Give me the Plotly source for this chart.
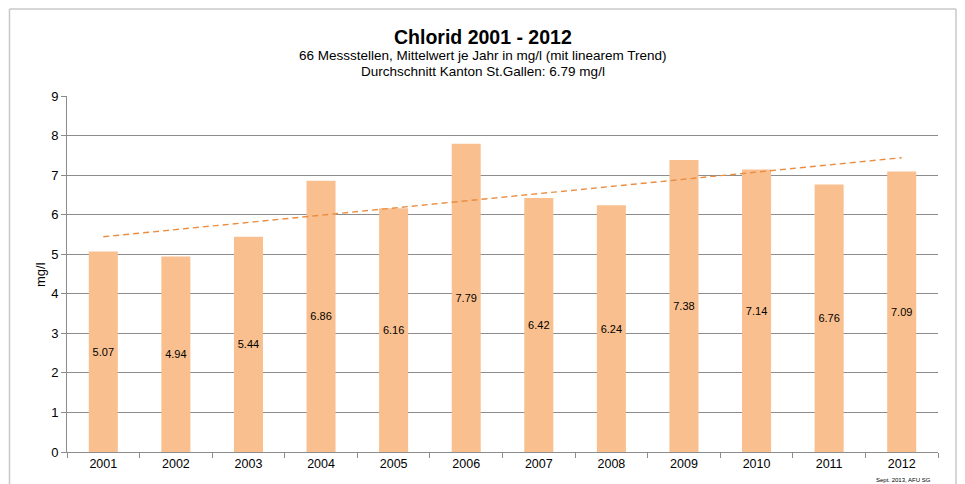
import numpy as np
import plotly.graph_objects as go

years = ["2001", "2002", "2003", "2004", "2005", "2006", "2007", "2008", "2009", "2010", "2011", "2012"]
values = [5.07, 4.94, 5.44, 6.86, 6.16, 7.79, 6.42, 6.24, 7.38, 7.14, 6.76, 7.09]
y_ticks = [0, 1, 2, 3, 4, 5, 6, 7, 8, 9]

# linear trend (least squares) computed from the data
idx = np.arange(1, len(values) + 1)
slope, intercept = np.polyfit(idx, values, 1)
trend = list(slope * idx + intercept)

FONT = "Arial, Liberation Sans, sans-serif"

fig = go.Figure()
fig.add_trace(go.Bar(
    x=years, y=values,
    marker=dict(color="#F9BF8E", line=dict(width=0)),
    text=[f"{v:.2f}" for v in values],
    textposition="inside", insidetextanchor="middle", textangle=0,
    textfont=dict(family=FONT, size=11, color="#000000"),
    constraintext="none",
    hoverinfo="x+y",
))
fig.add_trace(go.Scatter(
    x=years, y=trend, mode="lines",
    line=dict(color="#EA8D40", width=1.4, dash="6px,4px"),
    hoverinfo="skip",
))

fig.update_layout(
    width=965, height=484,
    margin=dict(l=67, r=27, t=96, b=32),
    paper_bgcolor="white", plot_bgcolor="white",
    showlegend=False,
    bargap=0.6,
    font=dict(family=FONT, size=12, color="#000000"),
    xaxis=dict(
        type="category", showgrid=False,
        showline=True, linecolor="#8c8c8c", linewidth=1,
        ticks="outside", tickson="boundaries", ticklen=5, tickcolor="#8c8c8c",
        tickfont=dict(family=FONT, size=12.5, color="#000000"),
        fixedrange=True,
    ),
    yaxis=dict(
        range=[0, 9], tickvals=y_ticks,
        showgrid=True, gridcolor="#8c8c8c", gridwidth=1,
        showline=True, linecolor="#8c8c8c", linewidth=1,
        ticks="outside", ticklen=5, tickcolor="#8c8c8c",
        tickfont=dict(family=FONT, size=13, color="#000000"),
        zeroline=False, fixedrange=True,
    ),
    annotations=[
        dict(text="<b>Chlorid 2001 - 2012</b>", xref="paper", yref="paper",
             x=(483 - 67) / 871, y=(452 - 37) / 356, xanchor="center", yanchor="middle",
             showarrow=False, font=dict(family=FONT, size=19.5, color="#000000")),
        dict(text="66 Messstellen, Mittelwert je Jahr in mg/l (mit linearem Trend)", xref="paper", yref="paper",
             x=(483 - 67) / 871, y=(452 - 55) / 356, xanchor="center", yanchor="middle",
             showarrow=False, font=dict(family=FONT, size=13.5, color="#000000")),
        dict(text="Durchschnitt Kanton St.Gallen: 6.79 mg/l", xref="paper", yref="paper",
             x=(483 - 67) / 871, y=(452 - 71) / 356, xanchor="center", yanchor="middle",
             showarrow=False, font=dict(family=FONT, size=13.5, color="#000000")),
        dict(text="mg/l", xref="paper", yref="paper", textangle=-90,
             x=(40 - 67) / 871, y=(452 - 275) / 356, xanchor="center", yanchor="middle",
             showarrow=False, font=dict(family=FONT, size=13, color="#000000")),
        dict(text="Sept. 2013, AFU SG", xref="paper", yref="paper",
             x=(903 - 67) / 871, y=(452 - 480) / 356, xanchor="center", yanchor="middle",
             showarrow=False, font=dict(family=FONT, size=6, color="#000000")),
    ],
    shapes=[
        dict(type="line", xref="paper", yref="paper",
             x0=(9.5 - 67) / 871, x1=(9.5 - 67) / 871, y0=(452 - 9) / 356, y1=(452 - 490) / 356,
             line=dict(color="#c8c8c8", width=1.5)),
        dict(type="line", xref="paper", yref="paper",
             x0=(956 - 67) / 871, x1=(956 - 67) / 871, y0=(452 - 9) / 356, y1=(452 - 490) / 356,
             line=dict(color="#c8c8c8", width=1.5)),
        dict(type="line", xref="paper", yref="paper",
             x0=(9.5 - 67) / 871, x1=(956 - 67) / 871, y0=(452 - 9) / 356, y1=(452 - 9) / 356,
             line=dict(color="#c8c8c8", width=1.5)),
    ],
)

fig.write_html("out.html", config={"displayModeBar": False},
               post_script="document.body.style.margin='0';document.body.style.overflow='hidden';")
